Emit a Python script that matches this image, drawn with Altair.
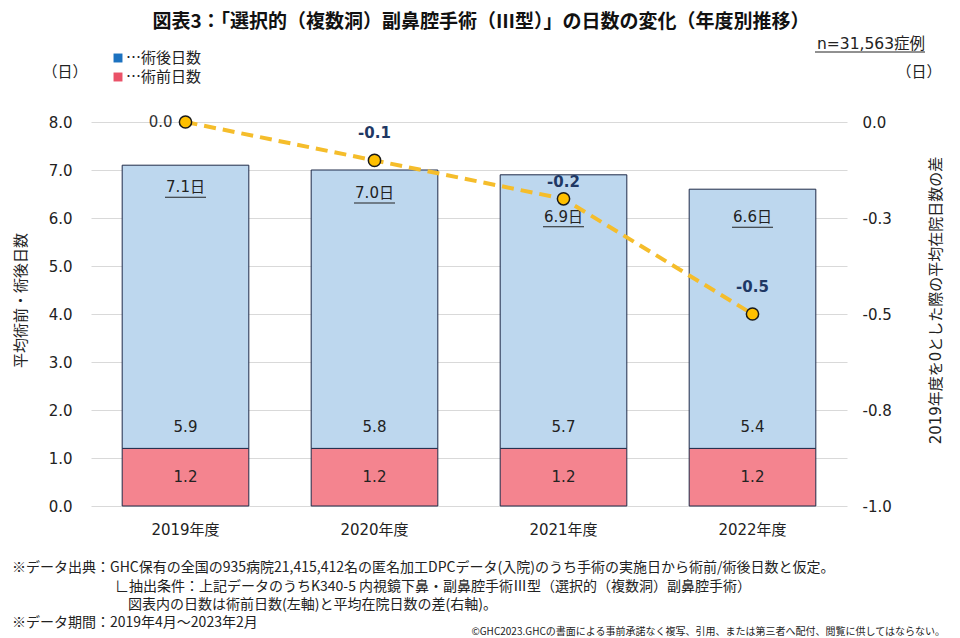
import altair as alt
import pandas as pd

years = ["2019年度", "2020年度", "2021年度", "2022年度"]
pre_days = [1.2, 1.2, 1.2, 1.2]
post_days = [5.9, 5.8, 5.7, 5.4]
total_days = [7.1, 7.0, 6.9, 6.6]
diff_days = [0.0, -0.1, -0.2, -0.5]
diff_labels = ["0.0", "-0.1", "-0.2", "-0.5"]
left_ticks = [0, 1, 2, 3, 4, 5, 6, 7, 8]
right_ticks = [-1.0, -0.75, -0.5, -0.25, 0.0]

title_text = "図表3：「選択的（複数洞）副鼻腔手術（Ⅲ型）」の日数の変化（年度別推移）"
n_text = "n=31,563症例"
legend_post = "…術後日数"
legend_pre = "…術前日数"
unit_text = "（日）"
left_title = "平均術前・術後日数"
right_title = "2019年度を0とした際の平均在院日数の差"
notes = [
    "※データ出典：GHC保有の全国の935病院21,415,412名の匿名加工DPCデータ(入院)のうち手術の実施日から術前/術後日数と仮定。",
    "∟抽出条件：上記データのうちK340-5 内視鏡下鼻・副鼻腔手術Ⅲ型（選択的（複数洞）副鼻腔手術）",
    "図表内の日数は術前日数(左軸)と平均在院日数の差(右軸)。",
    "※データ期間：2019年4月～2023年2月",
]
copyright_text = "©GHC2023.GHCの書面による事前承諾なく複写、引用、または第三者へ配付、閲覧に供してはならない。"

df = pd.DataFrame({
    "year": years,
    "pre": pre_days,
    "post": post_days,
    "total": total_days,
    "diff": diff_days,
    "diff_label": diff_labels,
})
df["total_label"] = [f"{t:.1f}日" for t in total_days]
df["pre_label"] = [f"{v:.1f}" for v in pre_days]
df["post_label"] = [f"{v:.1f}" for v in post_days]

NUM_FONT = "DejaVu Sans, Noto Sans CJK JP"
JP_FONT = "Noto Sans CJK JP"
W, H = 756, 384
PL, PT = 91, 122

x_enc = alt.X(
    "year:N", sort=years,
    scale=alt.Scale(paddingInner=0.33),
    axis=alt.Axis(title=None, labelAngle=0, domain=False, ticks=False,
                  labelPadding=16, labelFontSize=15, labelFont=NUM_FONT,
                  labelColor="#222222"),
)

left_axis = alt.Axis(
    values=left_ticks, format=".1f", title=left_title, grid=True,
    gridColor="#D9D9D9", domain=False, ticks=False, labelPadding=19,
    labelFontSize=15, labelFont=NUM_FONT, labelColor="#222222",
    titleFont=NUM_FONT, titleFontSize=15, titleFontWeight="normal",
    titleColor="#222222", titleX=20 - PL, titleY=178, titleAngle=270,
    titleBaseline="middle", titleAlign="center",
)
left_scale = alt.Scale(domain=[0, 8])


def yl(field):
    return alt.Y(field, type="quantitative", scale=left_scale, axis=left_axis)


base = alt.Chart(df)

bar_pre = base.mark_bar(color="#F4848F", stroke="#1F2A48", strokeWidth=1).encode(
    x=x_enc, y=yl("pre"))
bar_post = base.mark_bar(color="#BDD7EE", stroke="#1F2A48", strokeWidth=1).encode(
    x=x_enc, y=yl("total"), y2="pre")
pre_text = base.transform_calculate(mid="datum.pre / 2").mark_text(
    font=NUM_FONT, fontSize=15, color="#222222", baseline="middle").encode(
    x=x_enc, y=yl("mid"), text="pre_label:N")
post_text = base.mark_text(
    font=NUM_FONT, fontSize=15, color="#222222", baseline="middle", dy=-21).encode(
    x=x_enc, y=yl("pre"), text="post_label:N")

# label offsets below the bar top, per year (as placed in the original)
total_offsets = {years[0]: 22, years[1]: 23, years[2]: 42, years[3]: 28}
total_layers = []
for yname, off in total_offsets.items():
    sub = base.transform_filter(alt.datum.year == yname)
    total_layers.append(sub.mark_text(
        font=NUM_FONT, fontSize=15, color="#222222", baseline="middle",
        dy=off).encode(x=x_enc, y=yl("total"), text="total_label:N"))
    total_layers.append(sub.mark_tick(
        orient="horizontal", size=41, thickness=1, color="#222222",
        yOffset=off + 10, opacity=1).encode(x=x_enc, y=yl("total")))

left_layer = alt.layer(bar_pre, bar_post, pre_text, post_text, *total_layers)

right_axis = alt.Axis(
    orient="right", values=right_ticks, title=right_title,
    labelExpr="replace(format(datum.value, '.1f'), '\u2212', '-')",
    grid=False, domain=False, ticks=False, labelPadding=15, labelFontSize=15,
    labelFont=NUM_FONT, labelColor="#222222", labelAlign="left",
    titleFont=NUM_FONT, titleFontSize=15, titleFontWeight="normal",
    titleColor="#222222", titleX=935 - (PL + W), titleY=178, titleAngle=270,
    titleBaseline="middle", titleAlign="center",
)
right_scale = alt.Scale(domain=[-1, 0])


def yr(field):
    return alt.Y(field, type="quantitative", scale=right_scale, axis=right_axis)


line = base.mark_line(color="#F5BD2B", strokeWidth=4, strokeDash=[12, 7]).encode(
    x=x_enc, y=yr("diff"))
points = base.mark_point(filled=True, shape="circle", size=150, fill="#FFC000",
                         stroke="#1A1A1A", strokeWidth=1.5, opacity=1).encode(
    x=x_enc, y=yr("diff"))
first_label = base.transform_filter(alt.datum.year == years[0]).mark_text(
    font=NUM_FONT, fontSize=15, color="#333333", align="right",
    baseline="middle", dx=-13).encode(x=x_enc, y=yr("diff"), text="diff_label:N")
mid_labels = base.transform_filter(
    (alt.datum.year == years[1]) | (alt.datum.year == years[3])).mark_text(
    font=NUM_FONT, fontSize=15, fontWeight="bold", color="#1F3864",
    baseline="middle", dy=-27).encode(x=x_enc, y=yr("diff"), text="diff_label:N")
third_label = base.transform_filter(alt.datum.year == years[2]).mark_text(
    font=NUM_FONT, fontSize=15, fontWeight="bold", color="#1F3864",
    baseline="middle", dy=-17).encode(x=x_enc, y=yr("diff"), text="diff_label:N")

right_layer = alt.layer(line, points, first_label, mid_labels, third_label)

# annotations (title, legend, units, notes)
one = pd.DataFrame({"k": [0]})


def ann(text, x, y, size=14, align="left", weight="normal", font=JP_FONT,
        color="#222222"):
    return alt.Chart(one).mark_text(
        text=text, align=align, baseline="middle", fontSize=size,
        fontWeight=weight, font=font, color=color).encode(
        x=alt.value(x - PL), y=alt.value(y - PT))


title_mark = ann(title_text, 481, 22, size=19, align="center", weight="bold",
                 color="#111111")
n_mark = ann(n_text, 925, 44, size=15.5, align="right", font=NUM_FONT)
n_line = alt.Chart(one).mark_rule(color="#222222", strokeWidth=1).encode(
    x=alt.value(815 - PL), x2=alt.value(925 - PL), y=alt.value(52 - PT))
unit_l = ann(unit_text, 65, 72, size=15, align="center")
unit_r = ann(unit_text, 919, 72, size=15, align="center")
leg_sq1 = alt.Chart(one).mark_square(size=80, color="#1C72C0", opacity=1).encode(
    x=alt.value(118 - PL), y=alt.value(58 - PT))
leg_sq2 = alt.Chart(one).mark_square(size=80, color="#EA5268", opacity=1).encode(
    x=alt.value(118 - PL), y=alt.value(77 - PT))
leg_t1 = ann(legend_post, 126, 58, size=15)
leg_t2 = ann(legend_pre, 126, 77, size=15)
note1 = ann(notes[0], 12, 568, size=14)
note2 = ann(notes[1], 115, 587, size=14)
note3 = ann(notes[2], 128, 605, size=14)
note4 = ann(notes[3], 12, 623, size=14)
copy_mark = ann(copyright_text, 945, 632, size=10, align="right")

annotations = alt.layer(title_mark, n_mark, n_line, unit_l, unit_r, leg_sq1,
                        leg_sq2, leg_t1, leg_t2, note1, note2, note3, note4,
                        copy_mark)

chart = alt.layer(left_layer, right_layer, annotations).resolve_scale(
    y="independent").properties(
    width=W, height=H, autosize="none",
    padding={"left": PL, "top": PT, "right": 960 - PL - W,
             "bottom": 638 - PT - H},
    background="white",
).configure_view(stroke=None)

chart.save("out.html", embed_options={"renderer": "svg", "actions": False})
